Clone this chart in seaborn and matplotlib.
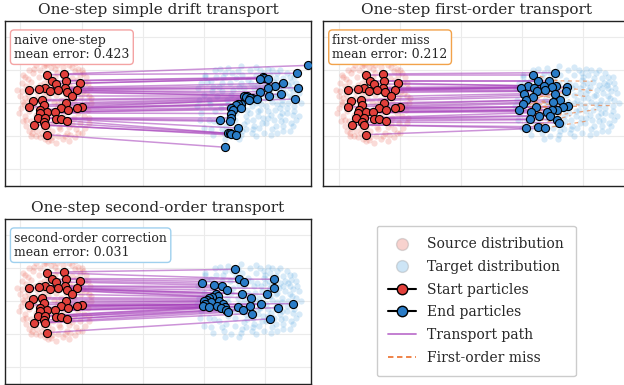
import matplotlib
matplotlib.use("Agg")
import matplotlib.pyplot as plt
from matplotlib.lines import Line2D
import seaborn as sns
import numpy as np

sns.set_theme(style="whitegrid")
plt.rcParams["font.family"] = ["DejaVu Serif"]

# start particles (same in every panel), sorted top to bottom
start_pts = [(-1.28, 0.44), (-1.56, 0.43), (-1.26, 0.34), (-1.49, 0.33), (-1.03, 0.30),
             (-1.42, 0.29), (-1.59, 0.23), (-1.27, 0.22), (-1.69, 0.21), (-1.85, 0.20),
             (-1.38, 0.19), (-1.08, 0.19), (-1.51, 0.18), (-1.24, 0.16), (-1.15, 0.10),
             (-1.64, 0.05), (-1.79, 0.03), (-1.26, 0.00), (-1.62, -0.03), (-1.85, -0.06),
             (-1.00, -0.06), (-1.08, -0.07), (-1.34, -0.08), (-1.67, -0.10), (-1.22, -0.11),
             (-1.56, -0.14), (-1.43, -0.14), (-1.68, -0.15), (-1.71, -0.23), (-1.59, -0.23),
             (-1.42, -0.24), (-1.34, -0.24), (-1.23, -0.27), (-1.61, -0.29), (-1.78, -0.33),
             (-1.59, -0.33), (-1.56, -0.48)]

# end particles per method, same order as start_pts
naive_end = [(2.70, 0.57), (2.52, 0.45), (1.97, 0.39), (1.98, 0.38), (1.91, 0.37),
             (2.04, 0.37), (2.30, 0.30), (2.16, 0.26), (2.54, 0.23), (2.04, 0.22),
             (1.92, 0.17), (2.26, 0.13), (1.65, 0.11), (2.07, 0.11), (1.70, 0.10),
             (1.68, 0.09), (1.78, 0.08), (1.75, 0.07), (1.87, 0.06), (2.49, 0.06),
             (1.73, 0.05), (1.61, -0.01), (1.56, -0.02), (1.53, -0.03), (1.44, -0.07),
             (1.61, -0.08), (1.47, -0.10), (1.45, -0.16), (1.44, -0.23), (1.27, -0.26),
             (1.43, -0.28), (1.56, -0.38), (1.40, -0.46), (1.42, -0.46), (1.44, -0.47),
             (1.53, -0.49), (1.34, -0.67)]

first_end = [(1.53, 0.46), (1.17, 0.43), (1.26, 0.34), (1.44, 0.33), (1.10, 0.26),
             (1.35, 0.26), (1.55, 0.26), (1.48, 0.24), (1.73, 0.24), (0.98, 0.23),
             (1.19, 0.23), (1.37, 0.19), (1.24, 0.18), (1.71, 0.18), (1.03, 0.14),
             (1.53, 0.13), (1.17, 0.09), (1.62, 0.05), (1.07, 0.04), (1.51, 0.02),
             (1.02, -0.01), (1.75, -0.05), (1.22, -0.06), (1.66, -0.06), (1.57, -0.10),
             (0.94, -0.11), (1.48, -0.11), (1.14, -0.13), (1.40, -0.14), (1.28, -0.19),
             (1.45, -0.20), (1.12, -0.24), (1.57, -0.25), (1.60, -0.30), (1.25, -0.36),
             (1.06, -0.38), (1.37, -0.38)]

second_end = [(1.50, 0.48), (1.58, 0.34), (2.15, 0.33), (1.66, 0.29), (0.97, 0.27),
              (1.17, 0.24), (1.30, 0.22), (2.15, 0.19), (1.38, 0.16), (1.63, 0.11),
              (1.20, 0.10), (2.03, 0.10), (1.23, 0.07), (1.14, 0.06), (1.77, 0.05),
              (1.08, 0.04), (1.05, 0.02), (1.00, 0.00), (1.25, 0.00), (1.12, -0.02),
              (2.45, -0.04), (1.32, -0.05), (1.93, -0.05), (1.02, -0.05), (1.21, -0.07),
              (0.98, -0.08), (1.75, -0.08), (1.55, -0.09), (1.09, -0.09), (1.34, -0.09),
              (2.21, -0.10), (1.28, -0.10), (1.36, -0.13), (1.64, -0.14), (1.40, -0.17),
              (1.79, -0.19), (2.08, -0.27)]

source_cloud = [(-1.45, 0.02), (-1.62, 0.31), (-1.30, -0.18), (-1.78, -0.05), (-1.21, 0.27), (-1.55, -0.36), (-1.12, 0.05), (-1.88, 0.14), (-1.40, 0.45), (-1.66, -0.22),
                (-1.35, -0.40), (-1.05, -0.15), (-1.92, -0.20), (-1.50, 0.55), (-1.25, 0.12), (-1.70, 0.40), (-1.58, -0.05), (-1.15, -0.32), (-1.83, 0.32), (-1.38, -0.02),
                (-0.98, 0.18), (-1.48, -0.52), (-1.73, 0.08), (-1.28, 0.38), (-1.60, 0.18), (-1.19, -0.05), (-1.95, 0.02), (-1.43, 0.25), (-1.33, -0.28), (-1.80, -0.38),
                (-1.08, 0.35), (-1.52, -0.20), (-1.67, 0.50), (-1.24, -0.45), (-1.41, 0.12), (-0.92, -0.02), (-1.86, -0.12), (-1.57, 0.38), (-1.13, -0.22), (-1.76, 0.22),
                (-1.31, 0.55), (-1.46, -0.30), (-1.02, -0.30), (-1.64, -0.45), (-1.22, 0.20), (-1.90, 0.26), (-1.36, 0.30), (-1.54, 0.08), (-1.10, 0.48), (-1.69, -0.12),
                (-1.27, -0.10), (-1.83, -0.28), (-1.44, 0.40), (-1.17, 0.12), (-1.61, -0.28), (-0.95, 0.30), (-1.74, 0.58), (-1.39, -0.50), (-1.99, -0.08), (-1.20, -0.36),
                (-1.50, 0.22), (-1.66, 0.00), (-1.06, -0.05), (-1.33, 0.05), (-1.79, 0.45), (-1.25, -0.26), (-1.58, 0.46), (-1.47, -0.12), (-0.88, 0.10), (-1.71, -0.30),
                (-1.14, 0.22), (-1.93, 0.40), (-1.37, -0.36), (-1.55, -0.58), (-1.29, 0.46), (-1.62, 0.12), (-1.01, 0.10), (-1.85, 0.05), (-1.42, -0.20), (-1.18, -0.48),
                (-1.53, 0.32), (-1.75, -0.18), (-1.09, -0.40), (-1.34, 0.18), (-1.68, 0.28), (-1.23, 0.00), (-1.97, 0.18), (-1.46, 0.60), (-1.59, -0.14), (-1.03, 0.42),
                (-1.40, -0.08), (-1.81, -0.45), (-1.16, 0.38), (-1.49, -0.42), (-1.26, 0.30), (-1.72, 0.16), (-0.96, -0.20), (-1.35, 0.62), (-1.63, -0.38), (-1.11, -0.10),
                (-1.98, 0.30), (-2.02, -0.15), (-1.90, -0.35), (-1.75, -0.50), (-1.60, -0.55), (-1.30, -0.55), (-1.10, -0.52), (-0.95, -0.38), (-0.87, -0.22), (-0.85, 0.00),
                (-0.86, 0.22), (-0.92, 0.40), (-1.05, 0.52), (-1.20, 0.58), (-1.40, 0.58), (-1.58, 0.60), (-1.85, 0.50), (-1.95, 0.42), (-2.00, 0.10), (-1.96, -0.28),
                (-1.88, 0.36), (-1.82, -0.50), (-1.50, -0.56), (-1.20, -0.58), (-0.99, -0.45), (-0.90, -0.10), (-0.89, 0.30), (-1.00, 0.50), (-1.28, 0.62), (-1.62, 0.56),
                (-1.92, 0.08), (-1.94, -0.02), (-1.86, -0.42), (-1.68, -0.52), (-1.42, -0.60), (-1.05, -0.45), (-0.93, 0.15), (-0.97, 0.45), (-1.15, 0.55), (-1.52, 0.62),
                (-1.77, 0.52), (-2.05, 0.20), (-1.72, -0.42), (-1.27, -0.50), (-0.88, -0.30), (-0.84, 0.08), (-1.10, 0.60), (-1.44, 0.52), (-1.90, -0.25), (-1.58, 0.58)]

target_cloud = [(1.75, 0.02), (2.05, 0.15), (1.45, -0.12), (2.25, -0.08), (1.60, 0.30), (1.95, -0.30), (1.30, 0.18), (2.40, 0.10), (1.85, 0.42), (1.50, -0.38),
                (2.15, 0.32), (1.10, -0.02), (2.32, -0.25), (1.68, -0.20), (1.20, 0.40), (2.48, -0.05), (1.90, 0.05), (1.38, 0.05), (2.10, -0.18), (1.55, 0.48),
                (1.00, 0.12), (2.20, 0.45), (1.78, -0.45), (1.25, -0.30), (2.38, 0.28), (1.62, 0.10), (2.00, 0.28), (1.42, 0.30), (1.88, -0.12), (2.28, 0.05),
                (1.15, 0.25), (1.98, -0.45), (1.72, 0.35), (2.45, 0.18), (1.33, -0.45), (2.12, 0.02), (1.58, -0.05), (2.30, 0.38), (0.95, -0.15), (1.82, 0.22),
                (2.18, -0.35), (1.48, 0.20), (1.92, 0.50), (1.65, -0.32), (2.35, -0.15), (1.05, 0.32), (2.02, -0.05), (1.28, -0.08), (2.50, 0.05), (1.80, -0.25),
                (1.52, 0.38), (2.22, 0.20), (1.12, -0.40), (1.95, 0.15), (1.70, -0.10), (2.42, -0.30), (1.35, 0.45), (2.08, 0.42), (1.60, -0.48), (2.27, -0.02),
                (0.92, 0.05), (1.85, 0.00), (2.14, -0.25), (1.40, -0.22), (2.36, 0.45), (1.75, 0.50), (1.22, 0.10), (2.05, -0.12), (1.55, 0.05), (2.45, -0.18),
                (1.90, -0.38), (1.08, -0.25), (2.25, 0.28), (1.66, 0.22), (1.98, 0.35), (1.30, 0.30), (2.40, -0.42), (1.78, -0.05), (2.17, 0.10), (1.45, -0.50),
                (2.52, 0.22), (1.62, 0.42), (1.18, -0.12), (2.08, 0.20), (1.88, -0.20), (2.32, 0.15), (1.50, -0.25), (1.02, 0.42), (2.20, -0.45), (1.72, 0.12),
                (1.94, -0.02), (2.30, -0.35), (1.36, -0.35), (2.12, 0.50), (1.58, 0.25), (2.42, 0.32), (1.82, -0.35), (1.26, 0.52), (2.00, 0.08), (2.48, -0.12),
                (1.68, -0.40), (2.24, -0.20), (1.44, 0.12), (2.06, 0.30), (1.86, 0.28), (2.38, 0.00), (1.14, 0.18), (1.96, -0.22), (2.16, -0.10), (1.76, -0.15),
                (0.90, 0.22), (0.93, -0.25), (1.00, -0.38), (1.15, -0.48), (1.35, -0.55), (1.58, -0.55), (1.85, -0.50), (2.10, -0.48), (2.30, -0.42), (2.45, -0.35),
                (2.55, -0.20), (2.58, 0.00), (2.55, 0.15), (2.50, 0.30), (2.40, 0.40), (2.25, 0.50), (2.05, 0.52), (1.85, 0.55), (1.60, 0.56), (1.40, 0.53),
                (1.18, 0.50), (1.02, 0.40), (0.95, 0.30), (0.88, -0.05), (2.30, 0.22), (2.20, -0.02), (2.35, -0.08), (2.40, 0.22), (2.28, -0.15), (2.18, 0.38),
                (2.02, -0.30), (2.12, -0.40), (2.44, 0.08), (2.33, 0.30), (2.50, -0.25), (2.20, 0.12), (2.10, 0.25), (1.98, 0.45), (1.92, -0.10), (2.04, -0.22),
                (1.32, 0.40), (1.12, 0.34), (1.08, 0.05), (1.16, -0.28), (1.30, -0.40), (1.46, 0.46), (1.62, -0.42), (1.80, -0.40), (2.00, 0.40), (2.26, -0.28),
                (1.52, -0.15), (1.66, 0.00), (1.84, 0.12), (1.77, 0.30), (1.94, 0.22), (2.08, 0.08), (1.70, -0.28), (1.40, -0.02), (1.25, 0.25), (2.48, 0.40)]

titles = ["One-step simple drift transport", "One-step first-order transport",
          "One-step second-order transport"]
box_labels = ["naive one-step", "first-order miss", "second-order correction"]
mean_errors = [0.423, 0.212, 0.031]
box_edges = ["#f4a3a3", "#f2a24a", "#9fd0ee"]

RED = "#e2403b"
BLUE = "#2a7cc7"
PURPLE = "#a33ab8"
ORANGE = "#ee7a3a"

W, H = 624, 385
fig = plt.figure(figsize=(W / 100, H / 100), dpi=100)
aw, ah = 306 / W, 165 / H
ax1 = fig.add_axes([5 / W, 1 - 185.5 / H, aw, ah])
ax2 = fig.add_axes([323.3 / W, 1 - 185.5 / H, aw, ah])
ax3 = fig.add_axes([5 / W, 1 - 383.5 / H, aw, ah])
ax4 = fig.add_axes([323.3 / W, 1 - 383.5 / H, aw, ah])

src = np.array(source_cloud)
tgt = np.array(target_cloud)
starts = np.array(start_pts)
ends = [np.array(naive_end), np.array(first_end), np.array(second_end)]

for i, ax in enumerate([ax1, ax2, ax3]):
    e = ends[i]
    sns.scatterplot(x=src[:, 0], y=src[:, 1], color="#e74c3c", alpha=0.2, s=20,
                    linewidth=0, ax=ax, zorder=1)
    sns.scatterplot(x=tgt[:, 0], y=tgt[:, 1], color="#3a98dc", alpha=0.2, s=20,
                    linewidth=0, ax=ax, zorder=1)
    for (x0, y0), (x1, y1) in zip(starts, e):
        ax.plot([x0, x1], [y0, y1], color=PURPLE, alpha=0.55, lw=1.1, zorder=2)
    if i == 1:
        # first-order result vs. the corrected (second-order) landing spot
        for (x0, y0), (x1, y1) in zip(e, ends[2]):
            ax.plot([x0, x1], [y0, y1], color=ORANGE, alpha=0.65, lw=0.9,
                    ls=(0, (3, 3)), zorder=2.5)
    sns.scatterplot(x=starts[:, 0], y=starts[:, 1], color=RED, s=34,
                    edgecolor="black", linewidth=0.8, ax=ax, zorder=3)
    sns.scatterplot(x=e[:, 0], y=e[:, 1], color=BLUE, s=34,
                    edgecolor="black", linewidth=0.8, ax=ax, zorder=3)

    ax.set_xlim(-2.25, 2.75)
    ax.set_ylim(-1.25, 1.25)
    ax.set_xticks([-2, -1, 0, 1, 2])
    ax.set_yticks([-1, -0.5, 0, 0.5, 1])
    ax.set_xticklabels([])
    ax.set_yticklabels([])
    ax.tick_params(length=0)
    ax.grid(True, color="#ebebeb", lw=0.8)
    for sp in ax.spines.values():
        sp.set_color("#222222")
        sp.set_linewidth(1.0)
    ax.set_title(titles[i], fontsize=11, pad=5)
    ax.text(0.03, 0.92, f"{box_labels[i]}\nmean error: {mean_errors[i]:.3f}",
            transform=ax.transAxes, fontsize=9, va="top", ha="left", zorder=5,
            linespacing=1.1,
            bbox=dict(boxstyle="round,pad=0.3", fc="white", ec=box_edges[i], lw=1.0))

ax4.axis("off")
handles = [
    Line2D([], [], ls="none", marker="o", ms=8.5, mfc=(0.906, 0.298, 0.235, 0.25),
           mec=(0.6, 0.6, 0.6, 0.35), label="Source distribution"),
    Line2D([], [], ls="none", marker="o", ms=8.5, mfc=(0.227, 0.596, 0.863, 0.25),
           mec=(0.6, 0.6, 0.6, 0.35), label="Target distribution"),
    Line2D([], [], color="black", marker="o", ms=7.5, mfc=RED, mec="black",
           label="Start particles"),
    Line2D([], [], color="black", marker="o", ms=7.5, mfc=BLUE, mec="black",
           label="End particles"),
    Line2D([], [], color=PURPLE, alpha=0.7, lw=1.3, label="Transport path"),
    Line2D([], [], color=ORANGE, ls=(0, (3, 2)), lw=1.3, label="First-order miss"),
]
ax4.legend(handles=handles, loc="center", fontsize=10, labelspacing=0.62,
           borderpad=0.85, frameon=True, edgecolor="#cccccc", framealpha=1)

fig.savefig("out.png", dpi=100)
